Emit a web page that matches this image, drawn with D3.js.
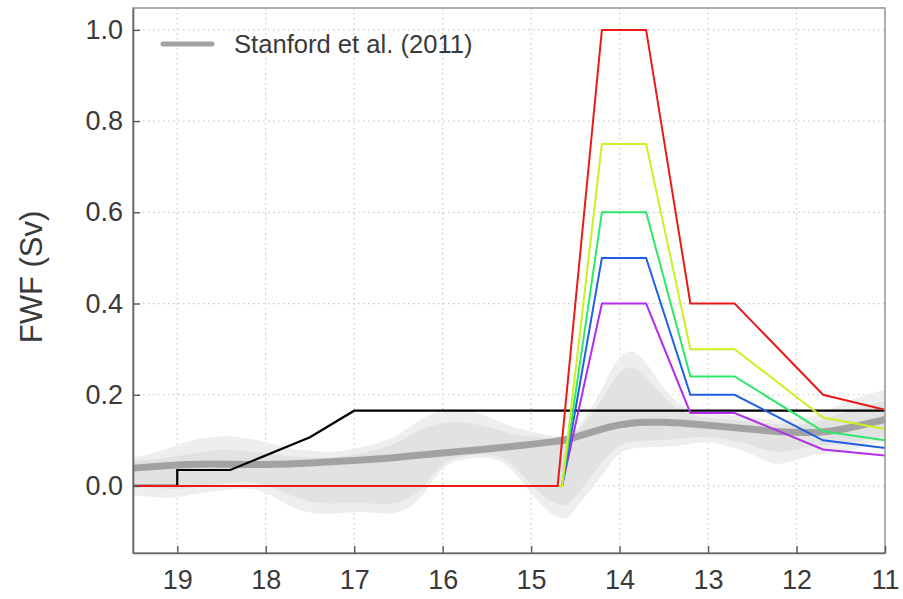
<!DOCTYPE html>
<html>
<head>
<meta charset="utf-8">
<script src="https://cdn.jsdelivr.net/npm/d3@7"></script>
<style>
  html, body { margin: 0; padding: 0; background: #fff; }
  svg { display: block; font-family: "Liberation Sans", Arial, Helvetica, sans-serif; }
</style>
</head>
<body>
<svg id="chart" width="903" height="599"></svg>
<script>
// Age axis (ka), plotted from old (left) to young (right)
const xTicks = [19, 18, 17, 16, 15, 14, 13, 12, 11];
const yTicks = [0.0, 0.2, 0.4, 0.6, 0.8, 1.0];

// Stanford et al. (2011) reconstruction: mean and two uncertainty envelopes
const stanfordAges = [19.5, 19.25, 19, 18.75, 18.5, 18.25, 18, 17.75, 17.5, 17.25, 17, 16.75, 16.5, 16.25, 16, 15.75, 15.5, 15.25, 15, 14.75, 14.6, 14.5, 14.25, 14.1, 14, 13.9, 13.75, 13.5, 13.25, 13, 12.75, 12.5, 12.25, 12, 11.75, 11.5, 11.25, 11];
const stanfordMean = [0.039, 0.043, 0.046, 0.048, 0.048, 0.047, 0.047, 0.048, 0.050, 0.053, 0.056, 0.059, 0.063, 0.068, 0.072, 0.077, 0.081, 0.086, 0.091, 0.097, 0.101, 0.107, 0.122, 0.130, 0.134, 0.137, 0.140, 0.140, 0.137, 0.133, 0.129, 0.124, 0.120, 0.117, 0.117, 0.123, 0.134, 0.146];
const outerHi = [0.062, 0.072, 0.090, 0.105, 0.110, 0.107, 0.097, 0.082, 0.078, 0.072, 0.082, 0.092, 0.110, 0.148, 0.170, 0.168, 0.155, 0.130, 0.120, 0.108, 0.110, 0.120, 0.190, 0.255, 0.283, 0.298, 0.290, 0.210, 0.165, 0.160, 0.155, 0.150, 0.145, 0.145, 0.155, 0.180, 0.200, 0.210];
const outerLo = [-0.020, -0.025, -0.027, -0.015, -0.010, -0.004, -0.010, -0.045, -0.060, -0.064, -0.055, -0.060, -0.062, -0.035, 0.050, 0.058, 0.065, 0.050, -0.020, -0.068, -0.075, -0.050, 0.010, 0.050, 0.075, 0.080, 0.085, 0.085, 0.090, 0.100, 0.085, 0.072, 0.042, 0.057, 0.072, 0.072, 0.085, 0.100];
const innerHi = [0.055, 0.058, 0.065, 0.075, 0.080, 0.078, 0.072, 0.065, 0.062, 0.062, 0.068, 0.078, 0.095, 0.125, 0.140, 0.140, 0.130, 0.115, 0.108, 0.104, 0.106, 0.115, 0.170, 0.225, 0.250, 0.262, 0.255, 0.190, 0.155, 0.150, 0.145, 0.140, 0.135, 0.135, 0.140, 0.160, 0.175, 0.185];
const innerLo = [0.000, -0.005, -0.008, 0.000, 0.005, 0.010, 0.005, -0.020, -0.035, -0.040, -0.035, -0.040, -0.040, -0.015, 0.058, 0.065, 0.072, 0.060, 0.000, -0.040, -0.045, -0.025, 0.040, 0.075, 0.090, 0.095, 0.100, 0.100, 0.105, 0.110, 0.100, 0.090, 0.070, 0.080, 0.090, 0.090, 0.100, 0.110];

// Prescribed background forcing (black)
const baseAges = [19.5, 19.0, 19.0, 18.4, 17.5, 17.0, 11.0];
const baseFwf = [0, 0, 0.035, 0.035, 0.107, 0.165, 0.165];

// Meltwater pulse scenarios
const redAges = [19.5, 14.7, 14.2, 13.7, 13.2, 12.7, 11.7, 11.0];
const fanAges = [19.5, 14.65, 14.2, 13.7, 13.2, 12.7, 11.7, 11.0];
const fwfRed = [0, 0, 1.0, 1.0, 0.4, 0.4, 0.2, 0.167];
const fwfYellow = [0, 0, 0.75, 0.75, 0.3, 0.3, 0.15, 0.125];
const fwfGreen = [0, 0, 0.6, 0.6, 0.24, 0.24, 0.12, 0.1];
const fwfBlue = [0, 0, 0.5, 0.5, 0.2, 0.2, 0.1, 0.083];
const fwfPurple = [0, 0, 0.4, 0.4, 0.16, 0.16, 0.08, 0.067];

const margin = { left: 133, right: 18, top: 8, bottom: 46 };
const W = 903, H = 599;
const svg = d3.select("#chart");

const x = d3.scaleLinear().domain([19.5, 11]).range([margin.left, W - margin.right]);
const y = d3.scaleLinear().domain([-0.147, 1.048]).range([H - margin.bottom, margin.top]);

svg.append("defs").append("clipPath").attr("id", "plotclip")
  .append("rect")
  .attr("x", margin.left).attr("y", margin.top)
  .attr("width", W - margin.left - margin.right)
  .attr("height", H - margin.top - margin.bottom);

// grid
const grid = svg.append("g").attr("stroke", "#c8c8c8").attr("stroke-width", 1.2)
  .attr("stroke-dasharray", "1.5,3.5");
grid.selectAll("line.h").data(yTicks).join("line")
  .attr("x1", margin.left).attr("x2", W - margin.right)
  .attr("y1", d => y(d)).attr("y2", d => y(d));
grid.selectAll("line.v").data(xTicks.filter(d => d > 11)).join("line")
  .attr("y1", margin.top).attr("y2", H - margin.bottom)
  .attr("x1", d => x(d)).attr("x2", d => x(d));

const plot = svg.append("g").attr("clip-path", "url(#plotclip)");

// uncertainty envelopes
const band = (hi, lo) => d3.area()
  .x((d, i) => x(stanfordAges[i]))
  .y0((d, i) => y(lo[i]))
  .y1((d, i) => y(hi[i]))
  .curve(d3.curveBasis)(stanfordAges);
plot.append("path").attr("d", band(outerHi, outerLo)).attr("fill", "#eeeeee");
plot.append("path").attr("d", band(innerHi, innerLo)).attr("fill", "#e2e2e2");

// Stanford mean
plot.append("path")
  .attr("d", d3.line().x((d, i) => x(stanfordAges[i])).y(d => y(d)).curve(d3.curveBasis)(stanfordMean))
  .attr("fill", "none").attr("stroke", "#a2a2a2").attr("stroke-width", 7);

const drawLine = (ages, vals, color, w) => plot.append("path")
  .attr("d", d3.line().x((d, i) => x(ages[i])).y(d => y(d))(vals))
  .attr("fill", "none").attr("stroke", color).attr("stroke-width", w)
  .attr("stroke-linejoin", "miter");

drawLine(baseAges, baseFwf, "#000000", 2.2);
drawLine(fanAges, fwfPurple, "#b22ee8", 2);
drawLine(fanAges, fwfBlue, "#1f5fe6", 2);
drawLine(fanAges, fwfGreen, "#2ee86a", 2);
drawLine(fanAges, fwfYellow, "#ccf022", 2);
drawLine(redAges, fwfRed, "#ea1a1a", 2);

// frame
svg.append("rect")
  .attr("x", margin.left).attr("y", margin.top)
  .attr("width", W - margin.left - margin.right)
  .attr("height", H - margin.top - margin.bottom)
  .attr("fill", "none").attr("stroke", "#9a9a9a").attr("stroke-width", 1.6);

// axes
const yAxis = svg.append("g").attr("transform", `translate(${margin.left},0)`)
  .call(d3.axisLeft(y).tickValues(yTicks).tickFormat(d3.format(".1f")).tickSizeInner(-7).tickSizeOuter(0).tickPadding(10));
const xAxis = svg.append("g").attr("transform", `translate(0,${H - margin.bottom})`)
  .call(d3.axisBottom(x).tickValues(xTicks).tickFormat(d3.format("d")).tickSizeInner(-7).tickSizeOuter(0).tickPadding(17));
[yAxis, xAxis].forEach(a => {
  a.select(".domain").attr("stroke", "#666").attr("stroke-width", 1.6);
  a.selectAll(".tick line").attr("stroke", "#555").attr("stroke-width", 1.4);
  a.selectAll(".tick text").attr("fill", "#3a3a3a").attr("font-size", 27)
    .attr("font-family", "'Liberation Sans', Arial, sans-serif");
});

// y title
svg.append("text")
  .attr("transform", "translate(42,277) rotate(-90)")
  .attr("text-anchor", "middle")
  .attr("font-size", 31).attr("fill", "#3a3a3a")
  .text("FWF (Sv)");

// legend
svg.append("line").attr("x1", 163).attr("x2", 212).attr("y1", 44).attr("y2", 44)
  .attr("stroke", "#a2a2a2").attr("stroke-width", 5).attr("stroke-linecap", "round");
svg.append("text").attr("x", 234).attr("y", 53)
  .attr("font-size", 25.6).attr("fill", "#3a3a3a")
  .text("Stanford et al. (2011)");
</script>
</body>
</html>
